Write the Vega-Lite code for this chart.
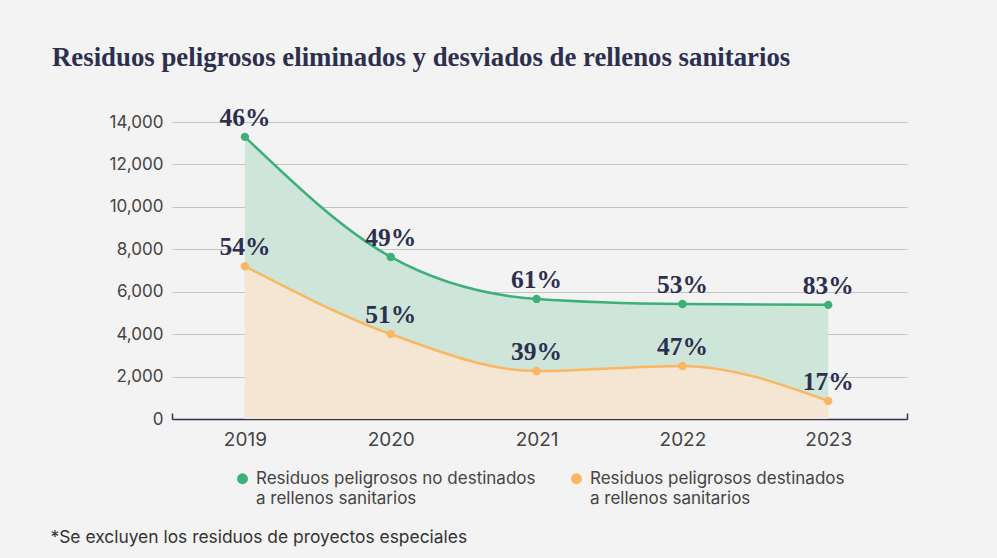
{
  "$schema": "https://vega.github.io/schema/vega-lite/v6.json",
  "width": 735,
  "height": 297,
  "autosize": {"type": "none"},
  "padding": {"left": 172, "top": 122, "right": 90, "bottom": 139},
  "background": "#f3f3f3",
  "title": {
    "text": "Residuos peligrosos eliminados y desviados de rellenos sanitarios",
    "anchor": "start",
    "frame": "group",
    "dx": -120,
    "offset": 34,
    "font": "Liberation Serif",
    "fontSize": 26.8,
    "fontWeight": "bold",
    "color": "#2d2f4e"
  },
  "config": {
    "view": {"stroke": null},
    "font": "Inter",
    "style": {"guide-label": {"lineHeight": 20}}
  },
  "data": {
    "values": [
      {"year": 2019, "serie": "Residuos peligrosos no destinados a rellenos sanitarios", "valor": 13300, "pct": "46%"},
      {"year": 2020, "serie": "Residuos peligrosos no destinados a rellenos sanitarios", "valor": 7640, "pct": "49%"},
      {"year": 2021, "serie": "Residuos peligrosos no destinados a rellenos sanitarios", "valor": 5660, "pct": "61%"},
      {"year": 2022, "serie": "Residuos peligrosos no destinados a rellenos sanitarios", "valor": 5420, "pct": "53%"},
      {"year": 2023, "serie": "Residuos peligrosos no destinados a rellenos sanitarios", "valor": 5380, "pct": "83%"},
      {"year": 2019, "serie": "Residuos peligrosos destinados a rellenos sanitarios", "valor": 7200, "pct": "54%"},
      {"year": 2020, "serie": "Residuos peligrosos destinados a rellenos sanitarios", "valor": 4000, "pct": "51%"},
      {"year": 2021, "serie": "Residuos peligrosos destinados a rellenos sanitarios", "valor": 2260, "pct": "39%"},
      {"year": 2022, "serie": "Residuos peligrosos destinados a rellenos sanitarios", "valor": 2500, "pct": "47%"},
      {"year": 2023, "serie": "Residuos peligrosos destinados a rellenos sanitarios", "valor": 850, "pct": "17%"}
    ]
  },
  "encoding": {
    "x": {
      "field": "year",
      "type": "quantitative",
      "scale": {"domain": [2018.5, 2023.54], "nice": false, "zero": false},
      "axis": {
        "values": [2018.5, 2019, 2020, 2021, 2022, 2023, 2023.54],
        "labelExpr": "datum.value % 1 == 0 ? format(datum.value, 'd') : ''",
        "labelOverlap": false,
        "grid": false,
        "domain": true,
        "domainColor": "#2d2f4e",
        "domainWidth": 1.5,
        "ticks": true,
        "tickSize": -6,
        "tickWidth": 1.5,
        "tickColor": {"condition": {"test": "datum.value % 1 != 0", "value": "#2d2f4e"}, "value": "transparent"},
        "labelFont": "Inter",
        "labelFontSize": 19,
        "labelColor": "#444444",
        "labelPadding": 17,
        "title": "*Se excluyen los residuos de proyectos especiales",
        "titleAnchor": "start",
        "titleAlign": "left",
        "titleX": -122,
        "titleY": 118,
        "titleBaseline": "middle",
        "titleFont": "Inter",
        "titleFontSize": 17.4,
        "titleFontWeight": "normal",
        "titleColor": "#333333"
      }
    },
    "y": {
      "field": "valor",
      "type": "quantitative",
      "scale": {"domain": [0, 14000], "nice": false},
      "axis": {
        "values": [0, 2000, 4000, 6000, 8000, 10000, 12000, 14000],
        "format": ",.0f",
        "title": null,
        "domain": false,
        "ticks": false,
        "grid": true,
        "gridColor": "#c4c4c4",
        "gridWidth": 1,
        "labelFont": "Inter",
        "labelFontSize": 17,
        "labelColor": "#444444",
        "labelPadding": 9
      }
    }
  },
  "layer": [
    {
      "transform": [{"filter": "datum.serie == 'Residuos peligrosos no destinados a rellenos sanitarios'"}],
      "mark": {"type": "area", "interpolate": "monotone", "color": "#cde6d9", "opacity": 1}
    },
    {
      "transform": [{"filter": "datum.serie == 'Residuos peligrosos destinados a rellenos sanitarios'"}],
      "mark": {"type": "area", "interpolate": "monotone", "color": "#f5e6d4", "opacity": 1}
    },
    {
      "mark": {"type": "line", "interpolate": "monotone", "strokeWidth": 2.5},
      "encoding": {
        "color": {
          "field": "serie",
          "type": "nominal",
          "scale": {
            "domain": ["Residuos peligrosos no destinados a rellenos sanitarios", "Residuos peligrosos destinados a rellenos sanitarios"],
            "range": ["#3daf78", "#fdb660"]
          }
        }
      }
    },
    {
      "mark": {"type": "circle", "size": 70, "opacity": 1},
      "encoding": {
        "color": {
          "field": "serie",
          "type": "nominal",
          "scale": {
            "domain": ["Residuos peligrosos no destinados a rellenos sanitarios", "Residuos peligrosos destinados a rellenos sanitarios"],
            "range": ["#3daf78", "#fdb660"]
          },
          "legend": {
            "title": null,
            "orient": "none",
            "legendX": 62,
            "legendY": 348,
            "direction": "horizontal",
            "columns": 2,
            "columnPadding": 32,
            "symbolType": "circle",
            "symbolSize": 120,
            "symbolStrokeWidth": 0,
            "symbolOpacity": 1,
            "labelFont": "Inter",
            "labelFontSize": 17,
            "labelColor": "#444444",
            "labelLimit": 400,
            "labelOffset": 5,
            "labelExpr": "split(replace(datum.label, ' a rellenos', '|a rellenos'), '|')"
          }
        }
      }
    },
    {
      "mark": {"type": "text", "font": "Liberation Serif", "fontSize": 25.5, "fontWeight": "bold", "color": "#2d2f4e", "baseline": "middle", "dy": -19},
      "encoding": {"text": {"field": "pct", "type": "nominal"}}
    }
  ]
}
